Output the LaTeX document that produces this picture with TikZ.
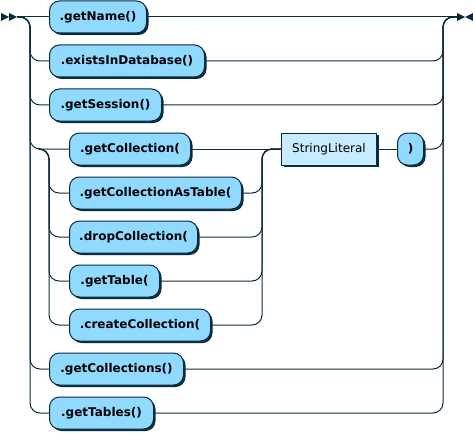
\documentclass[tikz,border=0pt]{standalone}
\usepackage{fontspec}
\setmainfont{DejaVu Sans}
\usetikzlibrary{shadows}
\definecolor{linecol}{HTML}{0A2B3A}
\definecolor{termfill}{HTML}{90D9FF}
\definecolor{ntfill}{HTML}{C8ECFF}
\tikzset{
  rail/.style={draw=linecol, line width=1pt, rounded corners=10pt},
  term/.style={draw=linecol, line width=1pt, fill=termfill, rounded corners=10pt,
    minimum height=32pt, inner sep=0pt, anchor=west, text=black,
    font=\fontsize{12}{14}\selectfont\bfseries,
    drop shadow={shadow xshift=2pt, shadow yshift=-2pt, opacity=1, fill=linecol}},
  nonterm/.style={draw=linecol, line width=1pt, fill=ntfill,
    minimum height=32pt, inner sep=0pt, anchor=west, text=black,
    font=\fontsize{12}{14}\selectfont,
    drop shadow={shadow xshift=2pt, shadow yshift=-2pt, opacity=1, fill=linecol}},
  marker/.style={fill=linecol, draw=none}
}
\begin{document}
\begin{tikzpicture}[x=1pt, y=-1pt]
\useasboundingbox (0,0) rectangle (473,433);
% markers
\fill[marker] (1,13) -- (9,17) -- (1,21) -- cycle;
\fill[marker] (9,13) -- (17,17) -- (9,21) -- cycle;
\fill[marker] (465,17) -- (457,13) -- (457,21) -- cycle;
\fill[marker] (465,17) -- (473,13) -- (473,21) -- cycle;
\coordinate (start) at (17,17);
\coordinate (endpt) at (457,17);
\coordinate (Ltop) at (30,17);
\coordinate (Rtop) at (443,17);
\coordinate (iLa) at (39,149);
\coordinate (iLb) at (49,149);
\coordinate (iR) at (262,149);
% nodes
\node[term, minimum width=97pt] (n1) at (49,17) {.getName()};
\node[term, minimum width=155pt] (n2) at (49,61) {.existsInDatabase()};
\node[term, minimum width=112pt] (n3) at (49,105) {.getSession()};
\node[term, minimum width=121pt] (n4) at (69,149) {.getCollection(};
\node[term, minimum width=172pt] (n5) at (69,193) {.getCollectionAsTable(};
\node[term, minimum width=128pt] (n6) at (69,237) {.dropCollection(};
\node[term, minimum width=90pt] (n7) at (69,281) {.getTable(};
\node[term, minimum width=141pt] (n8) at (69,325) {.createCollection(};
\node[term, minimum width=134pt] (n9) at (49,369) {.getCollections()};
\node[term, minimum width=104pt] (n10) at (49,413) {.getTables()};
\node[nonterm, minimum width=95pt] (sl) at (281,149) {StringLiteral};
\node[term, minimum width=26pt] (rp) at (397,149) {)};
% main line
\draw[rail] (start) -- (n1.west);
\draw[rail] (n1.east) -- (endpt);
% left branches
\foreach \n in {n2,n3,n4,n9,n10} {
  \draw[rail] (start) -- (Ltop) |- (\n.west);
}
% right branches
\foreach \n in {n2,n3,n9,n10,rp} {
  \draw[rail] (\n.east) -| (Rtop) -- (endpt);
}
% inner left
\foreach \n in {n5,n6,n7,n8} {
  \draw[rail] (iLa) -- (iLb) |- (\n.west);
}
% inner right
\draw[rail] (n4.east) -- (sl.west);
\foreach \n in {n5,n6,n7,n8} {
  \draw[rail] (\n.east) -| (iR) -- (sl.west);
}
\draw[rail] (sl.east) -- (rp.west);
\end{tikzpicture}
\end{document}
